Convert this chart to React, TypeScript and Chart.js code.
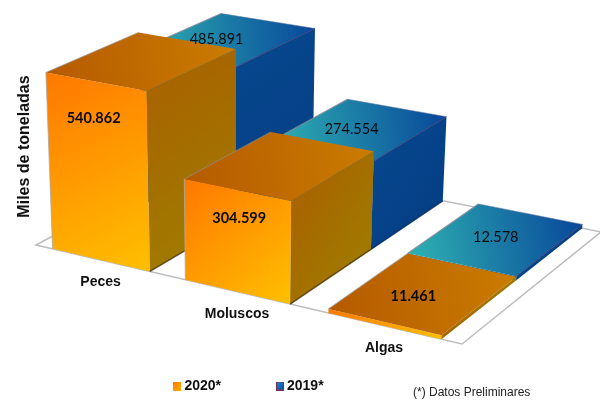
import React, { useEffect, useRef } from "react";
import { Chart, registerables } from "chart.js";

Chart.register(...registerables);

const categories = ["Peces", "Moluscos", "Algas"];
const series2020 = [540862, 304599, 11461];
const series2019 = [485891, 274554, 12578];
const labels2020 = ["540.862", "304.599", "11.461"];
const labels2019 = ["485.891", "274.554", "12.578"];

// Camera: floor corners in the picture, vertical vanishing point, height gain.
const FLOOR = [[36, 245], [462, 344], [601, 232], [206, 154]];
const VANISH = [233, 5000];
const HEIGHT_GAIN = -0.0395;
const DEPTH_SPLIT = 0.5;

// Where each value label sits on its box: [across, depth, share of height]
const labelSpots2020 = [[0.47, 0, 0.8], [0.52, 0, 0.73], [0.46, 0.42, 1]];
const labelSpots2019 = [[0.42, 0.45, 1], [0.44, 0.47, 1], [0.48, 0.52, 1]];

const [p0, p1, p2, p3] = FLOOR;
const dx1 = p1[0] - p2[0], dx2 = p3[0] - p2[0], sx = p0[0] - p1[0] + p2[0] - p3[0];
const dy1 = p1[1] - p2[1], dy2 = p3[1] - p2[1], sy = p0[1] - p1[1] + p2[1] - p3[1];
const den = dx1 * dy2 - dx2 * dy1;
const g = (sx * dy2 - dx2 * sy) / den;
const h = (dx1 * sy - sx * dy1) / den;

function project(u: number, v: number, f: number): [number, number] {
  const X = (p1[0] - p0[0] + g * p1[0]) * u + (p3[0] - p0[0] + h * p3[0]) * v + p0[0];
  const Y = (p1[1] - p0[1] + g * p1[1]) * u + (p3[1] - p0[1] + h * p3[1]) * v + p0[1];
  const W = g * u + h * v + 1;
  const k = HEIGHT_GAIN * f;
  return [(X + k * VANISH[0]) / (W + k), (Y + k * VANISH[1]) / (W + k)];
}

type Pt = [number, number];

function poly(ctx: CanvasRenderingContext2D, pts: Pt[], fill: string | CanvasGradient) {
  ctx.beginPath();
  pts.forEach((p, i) => (i ? ctx.lineTo(p[0], p[1]) : ctx.moveTo(p[0], p[1])));
  ctx.closePath();
  ctx.fillStyle = fill;
  ctx.fill();
}
function grad(ctx: CanvasRenderingContext2D, a: Pt, b: Pt, c0: string, c1: string) {
  const gr = ctx.createLinearGradient(a[0], a[1], b[0], b[1]);
  gr.addColorStop(0, c0);
  gr.addColorStop(1, c1);
  return gr;
}
function seg(ctx: CanvasRenderingContext2D, a: Pt, b: Pt, color: string, w: number) {
  ctx.beginPath();
  ctx.moveTo(a[0], a[1]);
  ctx.lineTo(b[0], b[1]);
  ctx.strokeStyle = color;
  ctx.lineWidth = w;
  ctx.stroke();
}

const palettes = [
  {
    front: ["#ff7800", "#ffc000"], top: ["#b55a00", "#ca7c00"], side: ["#a86400", "#a07a00"],
    edge: "rgba(150,140,130,0.6)", backEdge: "rgba(0,0,0,0)", sideEdge: "rgba(0,0,0,0)", base: "rgba(70,50,0,0.8)",
  },
  {
    front: ["#1c8ccc", "#0a4a9a"], top: ["#2fb2b2", "#08479a"], side: ["#07468c", "#053f86"],
    edge: "rgba(130,140,150,0.85)", backEdge: "rgba(90,110,150,0.5)", sideEdge: "rgba(60,60,120,0.8)", base: "rgba(5,40,90,0.8)",
  },
];

function legendSwatch(c0: string, c1: string, border?: string) {
  const c = document.createElement("canvas");
  c.width = 8;
  c.height = 9;
  const ctx = c.getContext("2d")!;
  const gr = ctx.createLinearGradient(0, 0, 8, 9);
  gr.addColorStop(0, c0);
  gr.addColorStop(1, c1);
  ctx.fillStyle = gr;
  ctx.fillRect(0, 0, 8, 9);
  if (border) {
    ctx.strokeStyle = border;
    ctx.strokeRect(0.5, 0.5, 7, 8);
  }
  return c;
}

const scenePlugin = {
  id: "scene",
  afterLayout(chart: any) {
    // The wide legend padding makes a tall box: seat it on the bottom band.
    chart.legend.top = 320;
    chart.legend.bottom = 403;
  },
  beforeDatasetsDraw(chart: any) {
    const ctx: CanvasRenderingContext2D = chart.ctx;
    const xs = chart.scales.x;
    const ys = chart.scales.y;
    ctx.save();
    const corners: Pt[] = [project(0, 0, 0), project(1, 0, 0), project(1, 1, 0), project(0, 1, 0)];
    poly(ctx, corners, "#ffffff");
    ctx.strokeStyle = "#bdbdbd";
    ctx.lineWidth = 1.5;
    ctx.stroke();

    const boxOf = (ds: number, i: number) => {
      const el = chart.getDatasetMeta(ds).data[i];
      const u0 = (el.x - el.width / 2 - xs.left) / xs.width;
      const u1 = (el.x + el.width / 2 - xs.left) / xs.width;
      const f = (el.base - el.y) / ys.height;
      const v0 = ds === 0 ? 0 : DEPTH_SPLIT;
      const v1 = ds === 0 ? DEPTH_SPLIT : 1;
      return { u0, u1, v0, v1, f };
    };

    [1, 0].forEach((ds) => {
      const pal = palettes[ds];
      categories.forEach((_, i) => {
        const { u0, u1, v0, v1, f } = boxOf(ds, i);
        const A = project(u0, v0, 0), B = project(u1, v0, 0), C = project(u1, v1, 0);
        const a = project(u0, v0, f), b = project(u1, v0, f), c = project(u1, v1, f), d = project(u0, v1, f);
        poly(ctx, [a, b, B, A], grad(ctx, a, B, pal.front[0], pal.front[1]));
        poly(ctx, [b, c, C, B], grad(ctx, b, C, pal.side[0], pal.side[1]));
        poly(ctx, [a, b, c, d], grad(ctx, a, c, pal.top[0], pal.top[1]));
        seg(ctx, a, d, pal.edge, 1.2);
        seg(ctx, d, c, pal.backEdge, 1);
        seg(ctx, b, c, pal.sideEdge, 1);
        if (ds === 0 && f > 0.1) seg(ctx, a, A, "rgba(170,170,170,0.8)", 1);
        if (f > 0.1) seg(ctx, B, C, pal.base, 1.5);
      });
    });

    // Value labels
    ctx.textAlign = "center";
    ctx.textBaseline = "middle";
    ctx.fillStyle = "#0a0a0a";
    [labels2020, labels2019].forEach((labels, ds) => {
      const spots = ds === 0 ? labelSpots2020 : labelSpots2019;
      ctx.font = (ds === 0 ? "bold " : "") + "14.5px Lato";
      labels.forEach((text, i) => {
        const { u0, u1, v0, v1, f } = boxOf(ds, i);
        const [sa, sb, sc] = spots[i];
        const p = project(u0 + (u1 - u0) * sa, v0 + (v1 - v0) * sb, f * sc);
        ctx.fillText(text, p[0], p[1]);
      });
    });

    // Category labels
    ctx.font = "bold 14px 'Liberation Sans'";
    ctx.fillStyle = "#111111";
    categories.forEach((_, i) => {
      const { u0, u1 } = boxOf(0, i);
      const p = project((u0 + u1) / 2, 0, 0);
      ctx.fillText(xs.getLabelForValue(i), p[0], p[1] + 22);
    });

    // Note
    ctx.font = "12px 'Liberation Sans'";
    ctx.fillStyle = "#222222";
    ctx.textAlign = "left";
    ctx.fillText("(*) Datos Preliminares", 413, 393);
    ctx.restore();
  },
};

export default function App() {
  const ref = useRef<HTMLCanvasElement>(null);
  useEffect(() => {
    const swatches = [legendSwatch("#ff7a00", "#ffb000"), legendSwatch("#1a8ad0", "#0a4aa0", "#7a3050")];
    const chart = new Chart(ref.current!, {
      type: "bar",
      data: {
        labels: categories,
        datasets: [
          { label: "2020*", data: series2020, backgroundColor: "transparent" },
          { label: "2019*", data: series2019, backgroundColor: "transparent" },
        ],
      },
      plugins: [scenePlugin],
      options: {
        animation: false,
        responsive: false,
        datasets: { bar: { grouped: false, barPercentage: 0.74, categoryPercentage: 1 } },
        layout: { padding: { left: 15, right: 114, top: 0, bottom: 27 } },
        scales: {
          x: { display: false },
          y: {
            min: 0,
            max: 600000,
            ticks: { display: false },
            grid: { display: false },
            border: { display: false },
            title: {
              display: true,
              text: "Miles de toneladas",
              color: "#111111",
              font: { family: "'Liberation Sans'", size: 16, weight: "bold" },
              padding: 0,
            },
          },
        },
        plugins: {
          tooltip: { enabled: false },
          legend: {
            position: "bottom",
            onClick: () => {},
            labels: {
              usePointStyle: true,
              boxWidth: 0.01,
              padding: 59,
              color: "#111111",
              font: { family: "'Liberation Sans'", size: 14, weight: "bold" },
              generateLabels(c: any) {
                const items = Chart.defaults.plugins.legend.labels.generateLabels(c);
                items.forEach((it: any, i: number) => (it.pointStyle = swatches[i]));
                return items;
              },
            },
          },
        },
      } as any,
    });
    return () => chart.destroy();
  }, []);
  return (
    <div style={{ position: "absolute", left: 0, top: 0, width: 600, height: 403 }}>
      <canvas ref={ref} width={600} height={403} style={{ display: "block" }} />
    </div>
  );
}
